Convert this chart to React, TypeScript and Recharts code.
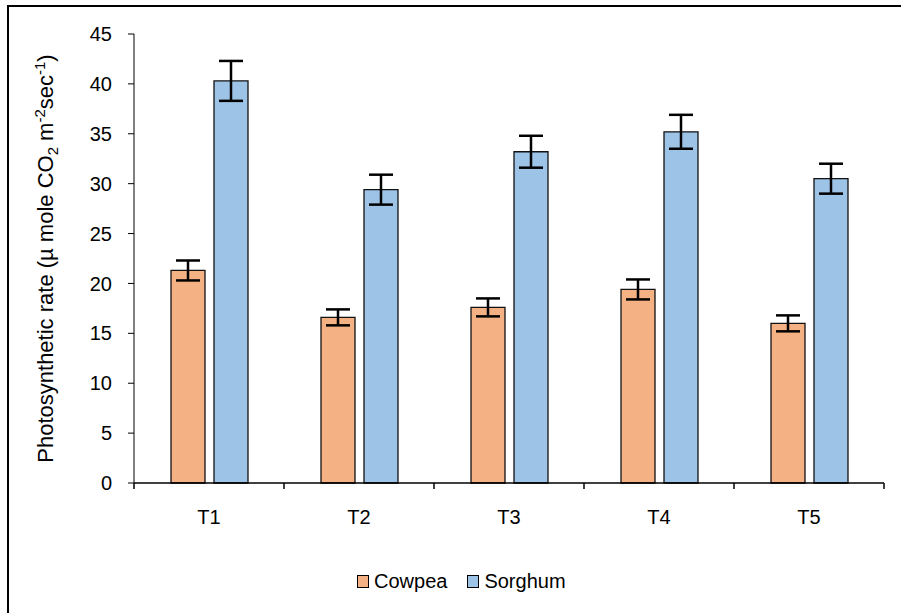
import { BarChart, Bar, XAxis, YAxis, ErrorBar, Legend, Label } from 'recharts'

const treatments = ['T1', 'T2', 'T3', 'T4', 'T5']
const cowpea = [21.3, 16.6, 17.6, 19.4, 16.0]
const cowpeaErr = [1.0, 0.8, 0.9, 1.0, 0.8]
const sorghum = [40.3, 29.4, 33.2, 35.2, 30.5]
const sorghumErr = [2.0, 1.5, 1.6, 1.7, 1.5]
const yTicks = [0, 5, 10, 15, 20, 25, 30, 35, 40, 45]

const data = treatments.map((t, i) => ({
  name: t,
  cowpea: cowpea[i],
  cowpeaErr: cowpeaErr[i],
  sorghum: sorghum[i],
  sorghumErr: sorghumErr[i],
}))

const FONT = "'Liberation Sans', Arial, sans-serif"
const COWPEA_FILL = '#F4B183'
const SORGHUM_FILL = '#9DC3E6'
const X_TICK_MARGIN = 27

// category label plus tick marks on the boundaries between categories
const XTick = (props: any) => {
  const { x, y, payload, index, visibleTicksCount } = props
  const half = payload.offset || 0
  const axisY = y - X_TICK_MARGIN
  const last = index === visibleTicksCount - 1
  return (
    <g>
      <line x1={x - half} x2={x - half} y1={axisY} y2={axisY + 6} stroke="#000" strokeWidth={1.5} />
      {last && <line x1={x + half} x2={x + half} y1={axisY} y2={axisY + 6} stroke="#000" strokeWidth={1.5} />}
      <text x={x} y={y} dy="0.71em" textAnchor="middle" fontSize={20} fontFamily={FONT} fill="#000">
        {payload.value}
      </text>
    </g>
  )
}

const YTitle = (props: any) => {
  const vb = props.viewBox || { x: 0, y: 34, width: 134, height: 449 }
  const x = vb.x + 53
  const y = vb.y + vb.height / 2
  return (
    <text
      x={x}
      y={y}
      transform={`rotate(-90, ${x}, ${y})`}
      textAnchor="middle"
      fontSize={22}
      fontFamily={FONT}
      fill="#000"
    >
      Photosynthetic rate (µ mole CO
      <tspan dy={5} fontSize={15}>2</tspan>
      <tspan dy={-5}> m</tspan>
      <tspan dy={-8} fontSize={15}>-2</tspan>
      <tspan dy={8}>sec</tspan>
      <tspan dy={-8} fontSize={15}>-1</tspan>
      <tspan dy={8}>)</tspan>
    </text>
  )
}

const renderLegend = (props: any) => {
  const { payload } = props
  return (
    <div style={{ display: 'flex', alignItems: 'center', fontFamily: FONT, fontSize: 20, color: '#000' }}>
      {payload.map((p: any) => (
        <div key={p.value} style={{ display: 'flex', alignItems: 'center', marginRight: 20 }}>
          <span
            style={{
              display: 'inline-block',
              width: 10,
              height: 11,
              background: p.color,
              border: '1.5px solid #000',
              marginRight: 5,
            }}
          />
          <span>{p.value}</span>
        </div>
      ))}
    </div>
  )
}

export default function App() {
  return (
    <div style={{ position: 'fixed', left: 0, top: 0, width: 901, height: 613, overflow: 'hidden', background: '#fff' }}>
      <div
        style={{
          position: 'absolute',
          left: 7,
          top: 5,
          width: 900,
          height: 620,
          borderLeft: '2px solid #000',
          borderTop: '2px solid #000',
        }}
      />
      <div style={{ position: 'absolute', left: 0, top: 0 }}>
        <BarChart
          width={901}
          height={613}
          data={data}
          margin={{ top: 34, right: 17, bottom: 129, left: 0 }}
          barSize={34}
          barGap={9}
          style={{ fontFamily: FONT }}
        >
          <XAxis
            dataKey="name"
            height={1}
            tickLine={false}
            axisLine={{ stroke: '#000', strokeWidth: 1.5 }}
            tickSize={0}
            tickMargin={X_TICK_MARGIN}
            interval={0}
            tick={<XTick />}
          />
          <YAxis
            width={134}
            domain={[0, 45]}
            ticks={yTicks}
            interval={0}
            tickSize={6}
            tickMargin={16}
            axisLine={{ stroke: '#000', strokeWidth: 1 }}
            tickLine={{ stroke: '#000', strokeWidth: 1 }}
            tick={{ fontSize: 20, fill: '#000', fontFamily: FONT }}
          >
            <Label content={YTitle} />
          </YAxis>
          <Legend
            layout="horizontal"
            align="center"
            verticalAlign="middle"
            content={renderLegend}
            wrapperStyle={{ left: 357, top: 570, width: 300, bottom: 'auto' }}
          />
          <Bar dataKey="cowpea" name="Cowpea" fill={COWPEA_FILL} stroke="#111" strokeWidth={1.3} isAnimationActive={false}>
            <ErrorBar dataKey="cowpeaErr" width={12} stroke="#000" strokeWidth={2.5} direction="y" />
          </Bar>
          <Bar dataKey="sorghum" name="Sorghum" fill={SORGHUM_FILL} stroke="#111" strokeWidth={1.3} isAnimationActive={false}>
            <ErrorBar dataKey="sorghumErr" width={12} stroke="#000" strokeWidth={2.5} direction="y" />
          </Bar>
        </BarChart>
      </div>
    </div>
  )
}
